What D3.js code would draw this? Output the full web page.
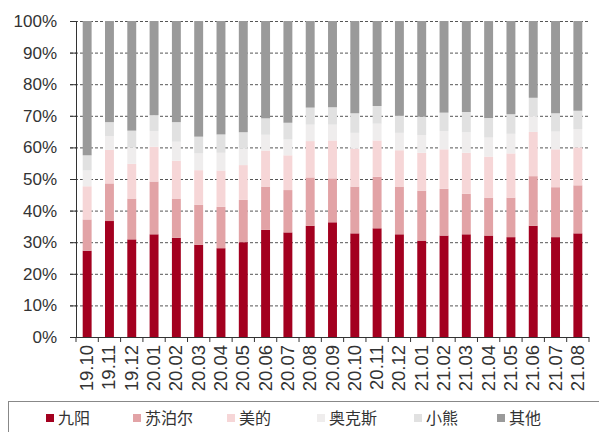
<!DOCTYPE html>
<html><head><meta charset="utf-8">
<script src="https://cdn.jsdelivr.net/npm/d3@7"></script>
<style>body{margin:0;background:#fff}svg{display:block}</style>
</head><body>
<svg id="c" width="599" height="432"></svg>
<script>
const categories = ["19.10","19.11","19.12","20.01","20.02","20.03","20.04","20.05","20.06","20.07","20.08","20.09","20.10","20.11","20.12","21.01","21.02","21.03","21.04","21.05","21.06","21.07","21.08"];
const seriesNames = ["九阳","苏泊尔","美的","奥克斯","小熊","其他"];
const jiuyang = [27.3,36.7,30.9,32.5,31.4,29.2,28.1,30.0,33.9,33.1,35.2,36.3,32.8,34.4,32.5,30.5,32.1,32.5,32.1,31.6,35.2,31.6,32.8];
const supor   = [9.9,11.9,12.9,16.7,12.4,12.6,13.1,13.4,13.7,13.4,15.3,13.9,14.8,16.3,15.1,15.8,14.8,12.8,12.0,12.5,15.7,15.8,15.2];
const midea   = [10.5,10.6,11.0,11.0,12.0,11.0,11.5,11.0,11.4,11.0,11.5,12.0,12.0,11.5,11.5,12.0,12.5,13.0,13.0,14.0,14.0,12.0,12.0];
const aux     = [5.0,4.4,5.2,5.0,6.0,5.3,5.6,5.2,5.0,5.0,5.2,5.0,5.0,5.3,5.5,5.6,5.8,6.5,6.0,6.2,5.0,5.6,5.8];
const bear    = [4.8,4.4,5.3,5.0,6.2,5.3,5.8,5.2,5.2,5.3,5.4,5.5,6.2,5.6,5.4,5.8,5.8,6.4,6.2,6.2,5.8,5.8,5.8];
const others  = [42.5,32.0,34.7,29.8,32.0,36.6,35.9,35.2,30.8,32.2,27.4,27.3,29.2,26.9,30.0,30.3,29.0,28.8,30.7,29.5,24.3,29.2,28.4];
const yTicks = [0,10,20,30,40,50,60,70,80,90,100];
const colors = ["#a3001f","#e2a3a6","#f6d6d7","#efeded","#e1e1e1","#9a9a9a"];

const seriesVals = [jiuyang,supor,midea,aux,bear,others];
const rows = categories.map((c,i)=>{const o={cat:c};seriesNames.forEach((s,k)=>o[s]=seriesVals[k][i]);return o;});
const stacked = d3.stack().keys(seriesNames)(rows);

const svg = d3.select("#c");
const pL = 76, pR = 589, pT = 21, pB = 337;
const x = d3.scaleBand().domain(categories).range([pL,pR]).paddingInner(0.6).paddingOuter(0.3);
const y = d3.scaleLinear().domain([0,100]).range([pB,pT]);

// gridlines
svg.append("g").selectAll("line").data(yTicks).join("line")
  .attr("x1",70).attr("x2",pR).attr("y1",d=>y(d)+0.5).attr("y2",d=>y(d)+0.5)
  .attr("stroke","#555").attr("stroke-width",1).attr("stroke-dasharray","3,2");

// bars
svg.append("g").selectAll("g").data(stacked).join("g").attr("fill",(d,i)=>colors[i])
  .selectAll("rect").data(d=>d).join("rect")
  .attr("x",d=>x(d.data.cat)).attr("width",x.bandwidth())
  .attr("y",d=>y(d[1])).attr("height",d=>y(d[0])-y(d[1]));

// y axis
const ya = svg.append("g").attr("transform",`translate(${pL},0)`)
  .call(d3.axisLeft(y).tickValues(yTicks).tickFormat(d=>d+"%").tickSize(6).tickPadding(13));
ya.select(".domain").attr("stroke","#333");
ya.selectAll(".tick line").attr("stroke","#333");
ya.selectAll("text").attr("font-family","Liberation Sans, Arial, sans-serif").attr("font-size",17).attr("fill","#333");

// x axis
const xa = svg.append("g").attr("transform",`translate(0,${pB})`);
xa.append("line").attr("x1",pL).attr("x2",pR).attr("y1",0.5).attr("y2",0.5).attr("stroke","#333");
const step = x.step();
const bounds = d3.range(categories.length+1).map(i=>pL+i*step);
xa.selectAll("line.t").data(bounds).join("line").attr("class","t")
  .attr("x1",d=>d).attr("x2",d=>d).attr("y1",0).attr("y2",5).attr("stroke","#333");
xa.selectAll("text").data(categories).join("text")
  .attr("transform",d=>`translate(${x(d)+x.bandwidth()/2+6},8) rotate(-90)`)
  .attr("text-anchor","end")
  .attr("font-family","Liberation Sans, Arial, sans-serif").attr("font-size",18.5).attr("fill","#333")
  .text(d=>d);

// legend
svg.append("rect").attr("x",8.5).attr("y",401.5).attr("width",600).attr("height",40)
  .attr("fill","none").attr("stroke","#888");
const legX = [46,133,227,317,414,497];
const lg = svg.append("g").selectAll("g").data(seriesNames).join("g")
  .attr("transform",(d,i)=>`translate(${legX[i]},418)`);
lg.append("rect").attr("x",0).attr("y",-4).attr("width",8).attr("height",8).attr("fill",(d,i)=>colors[i]);
lg.append("text").attr("x",12).attr("y",5.5).attr("font-family","Noto Sans CJK SC, sans-serif")
  .attr("font-size",16).attr("fill","#333").text(d=>d);
</script>
</body></html>
